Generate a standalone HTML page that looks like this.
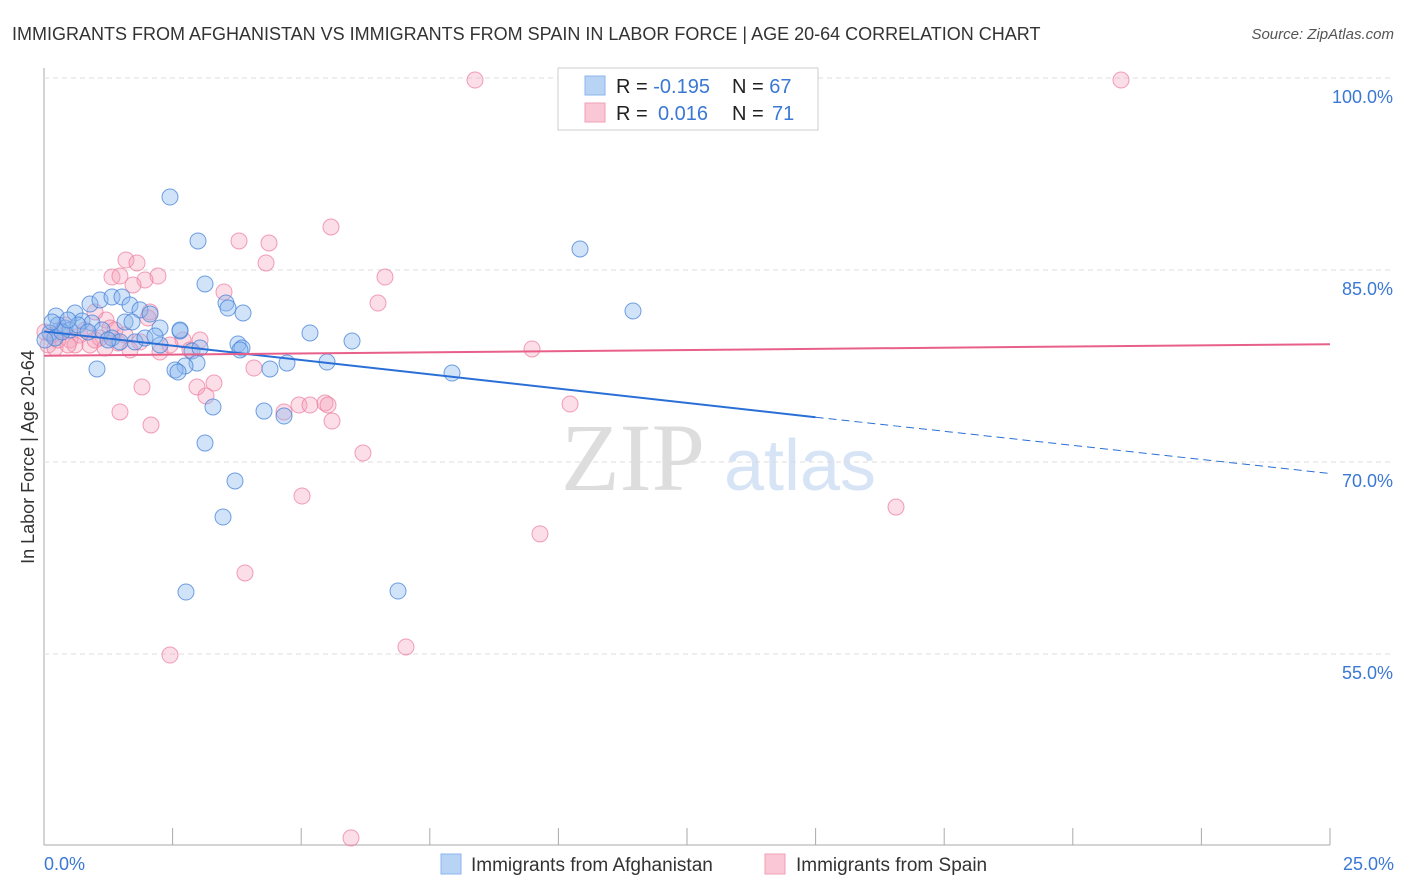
<!DOCTYPE html>
<html><head><meta charset="utf-8"><style>
body{margin:0;background:#fff;font-family:"Liberation Sans",sans-serif;}
svg{display:block}
</style></head><body>
<svg id="chart" width="1406" height="892">
<text x="12" y="40" font-size="18" fill="#333">IMMIGRANTS FROM AFGHANISTAN VS IMMIGRANTS FROM SPAIN IN LABOR FORCE | AGE 20-64 CORRELATION CHART</text>
<text x="1394" y="39" font-size="15" fill="#555" font-style="italic" text-anchor="end">Source: ZipAtlas.com</text>
<text x="633" y="490" font-size="96" fill="#ddd" font-family="Liberation Serif,serif" text-anchor="middle">ZIP</text>
<text x="800" y="490" font-size="72" fill="#d6e4f5" text-anchor="middle">atlas</text>
<g id="grid"></g>
<g id="pts"></g>
<g id="lines"></g>
<text transform="translate(34,457) rotate(-90)" font-size="18" fill="#333" text-anchor="middle">In Labor Force | Age 20-64</text>
<g>
<rect x="558" y="68" width="260" height="62" fill="#fff" stroke="#ccc"/>
<rect x="585" y="76" width="20" height="19" fill="#b9d3f5" stroke="#8ab4ec"/>
<rect x="585" y="103" width="20" height="19" fill="#f9c7d5" stroke="#f1a0b8"/>
<text x="616" y="93" font-size="20" fill="#222">R = <tspan fill="#3a78d4">-0.195</tspan></text>
<text x="732" y="93" font-size="20" fill="#222">N = <tspan fill="#3a78d4">67</tspan></text>
<text x="616" y="120" font-size="20" fill="#222">R = <tspan fill="#3a78d4" x="658">0.016</tspan></text>
<text x="732" y="120" font-size="20" fill="#222">N = <tspan fill="#3a78d4" x="772">71</tspan></text>
</g>
<g>
<rect x="441" y="854" width="20" height="20" fill="#b9d3f5" stroke="#8ab4ec"/>
<text x="471" y="871" font-size="19" fill="#333">Immigrants from Afghanistan</text>
<rect x="765" y="854" width="20" height="20" fill="#f9c7d5" stroke="#f1a0b8"/>
<text x="796" y="871" font-size="19" fill="#333">Immigrants from Spain</text>
</g>
</svg>
<script>
const yTicks=[100,85,70,55];
const xTickLabels=["0.0%","25.0%"];
const blueX=[],blueY=[],pinkX=[],pinkY=[];
const bluePx=[[170,197],[198,241],[580,249],[205,284],[633,311],[226,303],[228,308],[243,313],[310,333],[352,341],[238,344],[242,348],[180,331],[192,351],[327,362],[287,363],[270,369],[197,363],[185,366],[175,370],[178,372],[452,373],[97,369],[264,411],[284,416],[213,407],[205,443],[235,481],[223,517],[186,592],[398,591],[56,316],[75,313],[90,304],[100,300],[112,297],[122,297],[130,305],[140,310],[150,314],[125,322],[132,322],[160,328],[180,330],[58,325],[65,328],[70,330],[82,321],[92,323],[102,330],[112,338],[120,342],[135,342],[160,345],[50,333],[55,338],[62,332],[78,325],[88,332],[108,340],[145,338],[155,336],[200,348],[240,350],[45,340],[52,322],[68,320]];
const pinkPx=[[475,80],[1121,80],[331,227],[239,241],[269,243],[266,263],[126,260],[137,263],[112,277],[120,276],[158,276],[145,280],[133,285],[385,277],[224,292],[378,303],[150,312],[106,320],[95,312],[183,340],[200,340],[190,350],[532,349],[160,352],[118,343],[214,383],[197,387],[142,387],[206,396],[570,404],[120,412],[299,405],[284,412],[310,405],[325,403],[328,405],[332,421],[151,425],[363,453],[302,496],[896,507],[540,534],[245,573],[170,655],[406,647],[351,838],[254,368],[60,330],[70,340],[80,335],[90,345],[100,338],[48,345],[55,348],[65,325],[75,345],[85,330],[110,328],[125,335],[140,342],[130,350],[52,335],[58,340],[45,332],[68,345],[95,340],[105,348],[115,330],[148,318],[170,345]];
// convert read pixel estimates into data values
bluePx.forEach(p=>{blueX.push(+((p[0]-44)/1286*25).toFixed(3));blueY.push(+(100-(p[1]-78)/12.8).toFixed(2));});
pinkPx.forEach(p=>{pinkX.push(+((p[0]-44)/1286*25).toFixed(3));pinkY.push(+(100-(p[1]-78)/12.8).toFixed(2));});
const blueTrend=[[0,80.2],[15,73.5],[25,69.1]];
const pinkTrend=[[0,78.3],[25,79.2]];
const sx=v=>44+v/25*1286, sy=v=>78+(100-v)*12.8;
const NS="http://www.w3.org/2000/svg";
function mk(t,a,parent){const e=document.createElementNS(NS,t);for(const k in a)e.setAttribute(k,a[k]);parent.appendChild(e);return e;}
const grid=document.getElementById('grid');
let ax=mk('line',{x1:44,y1:68,x2:44,y2:845,stroke:'#aaa'},grid);


let bx=mk('line',{x1:44,y1:845,x2:1330,y2:845,stroke:'#aaa'},grid);


yTicks.forEach(t=>{
 const g=mk('line',{x1:44,y1:sy(t),x2:1394,y2:sy(t),stroke:'#ddd','stroke-dasharray':'5,4'},grid);
 
 
 const l=mk('text',{x:1393,y:sy(t)+25,'font-size':18,fill:'#3a78d4','text-anchor':'end'},grid);
 l.textContent=t.toFixed(1)+'%';
 
 
});
for(let i=0;i<=10;i++){const x=sx(i*2.5);const tk=mk('line',{x1:x,y1:828,x2:x,y2:845,stroke:'#aaa'},grid);
 
 }
[[0,44,'start'],[25,1394,'end']].forEach((d,i)=>{const l=mk('text',{x:d[1],y:870,'font-size':18,fill:'#3a78d4','text-anchor':d[2]},grid);l.textContent=xTickLabels[i];
 
 });
const pts=document.getElementById('pts');
pinkX.forEach((x,i)=>{const c=mk('circle',{cx:sx(x),cy:sy(pinkY[i]),r:8,fill:'rgba(244,160,185,0.35)',stroke:'rgba(236,120,155,0.7)','stroke-width':1},pts);
 
 });
blueX.forEach((x,i)=>{const c=mk('circle',{cx:sx(x),cy:sy(blueY[i]),r:8,fill:'rgba(140,185,240,0.4)',stroke:'rgba(70,130,215,0.75)','stroke-width':1},pts);
 
 });
const lines=document.getElementById('lines');
let b1=mk('line',{x1:sx(blueTrend[0][0]),y1:sy(blueTrend[0][1]),x2:sx(blueTrend[1][0]),y2:sy(blueTrend[1][1]),stroke:'#2a6fd6','stroke-width':2},lines);


let b2=mk('line',{x1:sx(blueTrend[1][0]),y1:sy(blueTrend[1][1]),x2:sx(blueTrend[2][0]),y2:sy(blueTrend[2][1]),stroke:'#2a6fd6','stroke-width':1,'stroke-dasharray':'8,5'},lines);


let p1=mk('line',{x1:sx(pinkTrend[0][0]),y1:sy(pinkTrend[0][1]),x2:sx(pinkTrend[1][0]),y2:sy(pinkTrend[1][1]),stroke:'#e8608a','stroke-width':2},lines);


</script>
</body></html>
